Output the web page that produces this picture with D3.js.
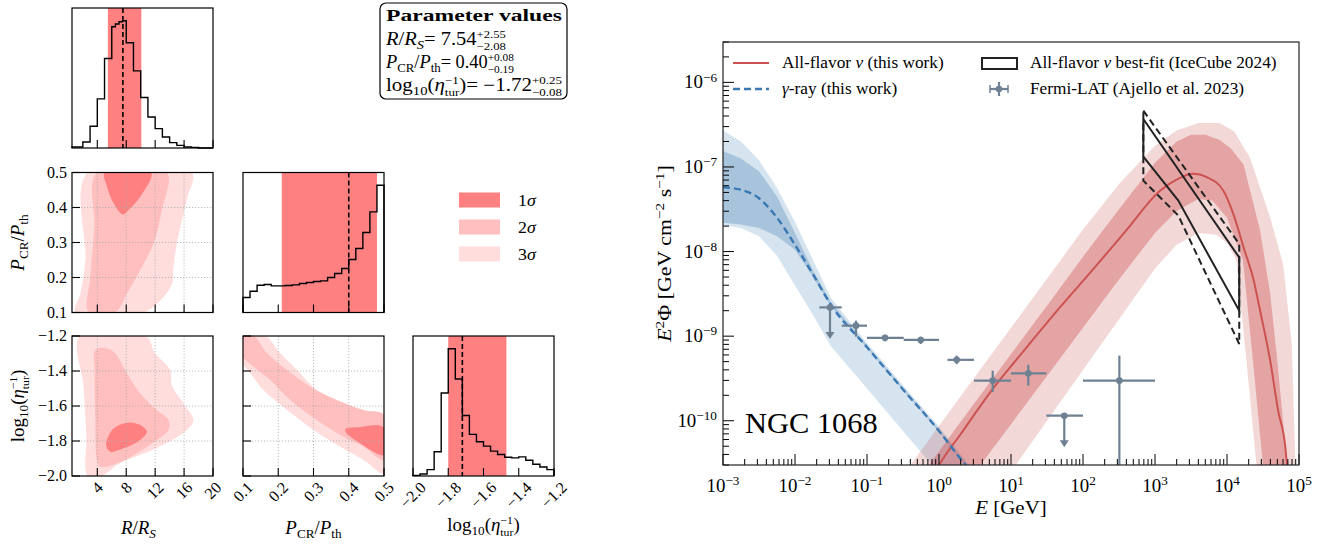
<!DOCTYPE html>
<html><head><meta charset="utf-8">
<script src="https://cdn.jsdelivr.net/npm/d3@7"></script>
<style>
body{margin:0;background:#fff}
svg{display:block}
text{font-family:"Liberation Serif",serif;fill:#000;white-space:pre}
</style>
</head><body>
<svg id="c" width="1331" height="546"></svg>
<script>
// ================= DATA =================
// Corner plot parameters
const paramRanges = [[0.5, 20], [0.1, 0.5], [-2.0, -1.2]];
const paramTicks = [[4, 8, 12, 16, 20], [0.1, 0.2, 0.3, 0.4, 0.5], [-2.0, -1.8, -1.6, -1.4, -1.2]];
const paramTickLabels = [["4", "8", "12", "16", "20"], ["0.1", "0.2", "0.3", "0.4", "0.5"], ["−2.0", "−1.8", "−1.6", "−1.4", "−1.2"]];
const paramMedian = [7.54, 0.40, -1.72];
const paramErrLo = [2.08, 0.19, 0.08];
const paramErrHi = [2.55, 0.08, 0.25];

// 1D marginal histograms (bin edges, relative counts)
const histREdges = [0.5, 2, 3, 4, 5, 6, 6.5, 7, 7.5, 8, 9, 10, 11, 12, 13, 14, 15, 16, 17, 18, 20];
const histRCounts = [3, 18, 65, 147, 268, 363, 371, 378, 381, 315, 231, 151, 93, 58, 33, 16, 8, 3, 2, 0];
const histPEdges = [0.10, 0.12, 0.14, 0.16, 0.18, 0.20, 0.22, 0.24, 0.26, 0.28, 0.30, 0.32, 0.34, 0.36, 0.38, 0.40, 0.42, 0.44, 0.46, 0.48, 0.50];
const histPCounts = [45, 64, 82, 84, 80, 80, 81, 83, 87, 90, 93, 95, 105, 117, 132, 159, 192, 240, 302, 382];
const histEEdges = [-2.00, -1.96, -1.92, -1.88, -1.84, -1.80, -1.76, -1.72, -1.68, -1.64, -1.60, -1.56, -1.52, -1.48, -1.44, -1.40, -1.36, -1.32, -1.28, -1.24, -1.20];
const histECounts = [2, 6, 19, 72, 247, 379, 289, 180, 124, 102, 89, 74, 64, 56, 54, 57, 47, 35, 27, 19];

// 2D credible regions: [x, y] vertices in parameter units
const cRP3 = [[2.67,0.5],[17.06,0.5],[16.37,0.422],[14.99,0.297],[14.53,0.23],[14.3,0.18],[12.69,0.134],[10.39,0.1],[0.97,0.1],[1.66,0.154],[2.34,0.249]];
const cRP2 = [[3.95,0.5],[13.61,0.5],[12.92,0.393],[11.77,0.297],[9.93,0.221],[8.09,0.154],[6.48,0.1],[2.80,0.1],[3.03,0.201],[3.59,0.345]];
const cRP1 = [[5.01,0.5],[11.45,0.5],[9.93,0.431],[8.32,0.393],[7.54,0.380],[6.25,0.412],[5.33,0.46]];
const cRE3 = [[1.56,-1.2],[10.71,-1.2],[12.0,-1.299],[14.07,-1.394],[14.30,-1.480],[15.91,-1.585],[17.29,-1.680],[16.3,-1.74],[12.2,-1.84],[7.0,-1.93],[4.6,-2.0],[2.67,-2.0],[2.48,-1.775],[2.11,-1.490]];
const cRE2 = [[3.72,-1.28],[5.33,-1.27],[6.48,-1.299],[8.09,-1.413],[9.93,-1.528],[12.23,-1.623],[13.84,-1.68],[13.84,-1.737],[12.23,-1.794],[9.47,-1.870],[6.71,-1.928],[4.41,-1.947],[3.95,-1.909],[3.72,-1.68],[3.63,-1.394]];
const cRE1 = [[5.33,-1.794],[6.25,-1.728],[8.09,-1.695],[9.93,-1.709],[10.85,-1.747],[9.93,-1.794],[7.63,-1.842],[5.79,-1.861],[5.24,-1.832]];
const cPE3 = [[0.1,-1.2],[0.163,-1.2],[0.206,-1.299],[0.253,-1.394],[0.309,-1.509],[0.375,-1.604],[0.442,-1.651],[0.5,-1.67],[0.5,-1.985],[0.442,-1.909],[0.375,-1.832],[0.300,-1.737],[0.225,-1.623],[0.158,-1.509],[0.121,-1.413],[0.1,-1.356]];
const cPE2 = [[0.1,-1.2],[0.130,-1.2],[0.168,-1.299],[0.225,-1.394],[0.291,-1.490],[0.366,-1.566],[0.442,-1.623],[0.5,-1.651],[0.5,-1.909],[0.442,-1.832],[0.385,-1.775],[0.309,-1.680],[0.234,-1.566],[0.177,-1.451],[0.130,-1.375],[0.1,-1.318]];
const cPE1 = [[0.390,-1.733],[0.423,-1.722],[0.5,-1.722],[0.5,-1.880],[0.470,-1.861],[0.432,-1.813],[0.394,-1.756]];

// Spectrum panel (log10 E [GeV], log10 E^2 Phi [GeV cm^-2 s^-1])
const gamLogE      = [-3, -2.75, -2.5, -2.25, -2, -1.75, -1.5, -1, -0.5, 0, 0.3, 0.5];
const gamMed       = [-7.24, -7.27, -7.37, -7.60, -7.92, -8.27, -8.63, -9.13, -9.63, -10.12, -10.45, -10.65];
const gamOuterHi   = [-6.57, -6.70, -6.92, -7.25, -7.65, -8.10, -8.55, -9.08, -9.58, -10.07, -10.40, -10.60];
const gamInnerHi   = [-6.81, -6.90, -7.05, -7.35, -7.78, -8.22, -8.60, -9.11, -9.61, -10.10, -10.43, -10.63];
const gamInnerLo   = [-7.66, -7.68, -7.72, -7.82, -7.98, -8.30, -8.65, -9.14, -9.64, -10.13, -10.46, -10.66];
const gamOuterLo   = [-7.69, -7.72, -7.82, -8.05, -8.40, -8.75, -9.12, -9.62, -10.12, -10.62, -10.95, -11.15];

const nuMed      = [[-0.1,-10.7],[0,-10.53],[0.3,-10.16],[0.75,-9.62],[1.2,-9.15],[1.7,-8.64],[2.1,-8.25],[2.6,-7.75],[3.07,-7.28],[3.3,-7.15],[3.53,-7.08],[3.72,-7.12],[3.95,-7.28],[4.09,-7.56],[4.23,-7.95],[4.37,-8.34],[4.46,-8.70],[4.6,-9.29],[4.71,-9.88],[4.81,-10.31],[4.85,-10.7]];
const nuOuterHi  = [[-0.85,-11.1],[-0.4,-10.53],[0,-10.06],[0.5,-9.48],[1,-8.90],[1.5,-8.32],[2,-7.74],[2.5,-7.2],[3,-6.75],[3.3,-6.57],[3.6,-6.48],[3.9,-6.48],[4.1,-6.58],[4.32,-6.89],[4.6,-7.6],[4.78,-8.15],[4.9,-9.1],[4.95,-10.5],[5.0,-11.1]];
const nuInnerHi  = [[-0.55,-11.1],[-0.15,-10.53],[0,-10.36],[0.5,-9.78],[1,-9.21],[1.5,-8.64],[2,-8.06],[2.5,-7.5],[3,-6.95],[3.3,-6.7],[3.5,-6.62],[3.7,-6.62],[3.9,-6.68],[4.05,-6.78],[4.23,-6.97],[4.46,-7.75],[4.6,-8.5],[4.7,-9.3],[4.8,-10.2],[4.86,-11.1]];
const nuInnerLo  = [[0.2,-11.1],[0.57,-10.53],[1,-10.04],[1.5,-9.47],[2,-8.9],[2.5,-8.33],[3,-7.78],[3.3,-7.52],[3.6,-7.38],[3.8,-7.4],[4.0,-7.6],[4.22,-8.1],[4.36,-9.29],[4.5,-10.53],[4.55,-11.1]];
const nuOuterLo  = [[0.6,-11.1],[1.06,-10.53],[1.5,-10.0],[2,-9.4],[2.5,-8.8],[3,-8.2],[3.3,-7.92],[3.6,-7.78],[3.85,-7.8],[4.0,-7.9],[4.13,-8.1],[4.27,-9.29],[4.41,-10.53],[4.47,-11.1]];

const icSolid  = [[2.838,-6.433],[4.17,-8.07],[4.17,-8.699],[3.324,-7.398],[2.838,-6.878],[2.838,-6.433]];
const icDashed = [[2.838,-6.335],[4.17,-7.91],[4.17,-9.092],[3.324,-7.575],[2.838,-7.162],[2.838,-6.335]];

const fermiLogE   = [-1.514, -1.153, -0.75, -0.254, 0.246, 0.746, 1.24, 1.74, 2.505];
const fermiLogELo = [-1.663, -1.351, -1.0, -0.49, 0.118, 0.486, 1.0, 1.49, 2.0];
const fermiLogEHi = [-1.351, -1.0, -0.49, 0.0, 0.486, 1.0, 1.49, 2.0, 3.0];
const fermiLogF   = [-8.66, -8.876, -9.02, -9.045, -9.28, -9.526, -9.44, -9.94, -9.526];
const fermiLogFLo = [-9.033, -9.006, -9.061, -9.092, -9.33, -9.66, -9.585, -10.314, -11.2];
const fermiLogFHi = [-8.66, -8.817, -8.983, -9.006, -9.23, -9.408, -9.337, -9.94, -9.23];
const fermiUL     = [true, false, false, false, false, false, false, true, false];

const specXTicks = [-3, -2, -1, 0, 1, 2, 3, 4, 5];
const specYTicks = [-10, -9, -8, -7, -6];

// ================= DRAWING =================
const svg = d3.select("#c");
const P = v => Math.pow(10, v);

// rich text helper: parts = [text, style] or {stack:[sup, sub]}
function rich(parent, parts, fs, anchor, x, y, rot, sx, targetW) {
  const outer = parent.append("g");
  const g = outer.append("g");
  let cx = 0;
  const mk = (txt, st, px, dy, scale) => {
    const t = g.append("text").attr("x", px).attr("y", dy).text(txt);
    t.style("font-size", (fs * scale) + "px");
    if (/i$/.test(st)) t.style("font-style", "italic");
    if (st === "b") t.style("font-weight", "bold");
    return t;
  };
  parts.forEach(p => {
    if (p.stack) {
      const a = mk(p.stack[0], "sup", cx, -fs * 0.40, 0.62);
      const b = mk(p.stack[1], "sub", cx, fs * 0.30, 0.62);
      cx += Math.max(a.node().getComputedTextLength(), b.node().getComputedTextLength());
    } else {
      const [txt, st] = p;
      const small = /sup|sub/.test(st);
      const dy = /sup/.test(st) ? -fs * 0.38 : /sub/.test(st) ? fs * 0.24 : 0;
      const t = mk(txt, st, cx, dy, small ? 0.7 : 1);
      cx += t.node().getComputedTextLength();
    }
  });
  let s = sx || 1;
  if (targetW) s = targetW / cx;
  const shift = anchor === "middle" ? -cx / 2 : anchor === "end" ? -cx : 0;
  g.attr("transform", `translate(${shift},0)`);
  outer.attr("transform", `translate(${x},${y})` + (rot ? ` rotate(${rot})` : "") + ` scale(${s},1)`);
  return cx * s;
}

// ---------- Corner plot ----------
const cols = [72, 243, 413], rows = [8, 172.5, 336], PW = 141, PH = 140;
const col1 = "#ff8080", col2 = "#ffbfbf", col3 = "#ffdddd";
const xS = i => d3.scaleLinear().domain(paramRanges[i]).range([cols[i], cols[i] + PW]);
const yS = (j, r) => d3.scaleLinear().domain(paramRanges[j]).range([rows[r] + PH, rows[r]]);

const labR = [["R", "i"], ["/", ""], ["R", "i"], ["S", "subi"]];
const labP = [["P", "i"], ["CR", "sub"], ["/", ""], ["P", "i"], ["th", "sub"]];
const labE = [["log", ""], ["10", "sub"], ["(", ""], ["η", "i"], { stack: ["−1", "tur"] }, [")", ""]];

function clipFor(id, x, y) {
  svg.append("clipPath").attr("id", id).append("rect").attr("x", x).attr("y", y).attr("width", PW).attr("height", PH);
}

function histPanel(i, edges, counts) {
  const x = xS(i);
  const y = d3.scaleLinear().domain([0, d3.max(counts) * 1.1]).range([rows[i] + PH, rows[i]]);
  const g = svg.append("g");
  const lo = paramMedian[i] - paramErrLo[i], hi = paramMedian[i] + paramErrHi[i];
  g.append("rect").attr("x", x(lo)).attr("y", rows[i]).attr("width", x(hi) - x(lo)).attr("height", PH).attr("fill", col1);
  const pts = [[edges[0], 0]];
  counts.forEach((c, k) => { pts.push([edges[k], c]); pts.push([edges[k + 1], c]); });
  pts.push([edges[edges.length - 1], 0]);
  g.append("path").attr("d", d3.line().x(d => x(d[0])).y(d => y(d[1]))(pts))
    .attr("fill", "none").attr("stroke", "#000").attr("stroke-width", 1.4);
  g.append("line").attr("x1", x(paramMedian[i])).attr("x2", x(paramMedian[i])).attr("y1", rows[i]).attr("y2", rows[i] + PH)
    .attr("stroke", "#000").attr("stroke-width", 1.6).attr("stroke-dasharray", "5,3");
  paramTicks[i].forEach(t => g.append("line").attr("x1", x(t)).attr("x2", x(t)).attr("y1", rows[i] + PH).attr("y2", rows[i] + PH - 8).attr("stroke", "#000").attr("stroke-width", 1.1));
  g.append("rect").attr("x", cols[i]).attr("y", rows[i]).attr("width", PW).attr("height", PH).attr("fill", "none").attr("stroke", "#000").attr("stroke-width", 1.2);
}

function contourPanel(ci, ri, polys) {
  const x = xS(ci), y = yS(ri, ri);
  const id = "cl" + ci + ri;
  clipFor(id, cols[ci], rows[ri]);
  const g = svg.append("g");
  const gc = g.append("g").attr("clip-path", `url(#${id})`);
  const ln = d3.line().x(d => x(d[0])).y(d => y(d[1])).curve(d3.curveCatmullRomClosed.alpha(0.5));
  [[polys[0], col3], [polys[1], col2], [polys[2], col1]].forEach(([pl, c]) => {
    gc.append("path").attr("d", ln(pl)).attr("fill", c);
  });
  const gx = paramTicks[ci].filter(t => t > paramRanges[ci][0] && t < paramRanges[ci][1]);
  const gy = paramTicks[ri].filter(t => t > paramRanges[ri][0] && t < paramRanges[ri][1]);
  gx.forEach(t => g.append("line").attr("x1", x(t)).attr("x2", x(t)).attr("y1", rows[ri]).attr("y2", rows[ri] + PH).attr("stroke", "#aaa").attr("stroke-width", 0.8).attr("stroke-dasharray", "1.2,1.8"));
  gy.forEach(t => g.append("line").attr("y1", y(t)).attr("y2", y(t)).attr("x1", cols[ci]).attr("x2", cols[ci] + PW).attr("stroke", "#aaa").attr("stroke-width", 0.8).attr("stroke-dasharray", "1.2,1.8"));
  paramTicks[ci].forEach(t => g.append("line").attr("x1", x(t)).attr("x2", x(t)).attr("y1", rows[ri] + PH).attr("y2", rows[ri] + PH - 8).attr("stroke", "#000").attr("stroke-width", 1.1));
  paramTicks[ri].forEach(t => g.append("line").attr("y1", y(t)).attr("y2", y(t)).attr("x1", cols[ci]).attr("x2", cols[ci] + 8).attr("stroke", "#000").attr("stroke-width", 1.1));
  g.append("rect").attr("x", cols[ci]).attr("y", rows[ri]).attr("width", PW).attr("height", PH).attr("fill", "none").attr("stroke", "#000").attr("stroke-width", 1.2);
}

histPanel(0, histREdges, histRCounts);
histPanel(1, histPEdges, histPCounts);
histPanel(2, histEEdges, histECounts);
contourPanel(0, 1, [cRP3, cRP2, cRP1]);
contourPanel(0, 2, [cRE3, cRE2, cRE1]);
contourPanel(1, 2, [cPE3, cPE2, cPE1]);

// y tick labels (rows 1,2 on column 0)
[1, 2].forEach(r => {
  const y = yS(r, r);
  paramTicks[r].forEach((t, k) => {
    svg.append("text").attr("x", cols[0] - 5).attr("y", y(t)).attr("dy", "0.33em").attr("text-anchor", "end")
      .style("font-size", "16px").text(paramTickLabels[r][k]);
  });
});
// x tick labels (bottom row), rotated 45
[0, 1, 2].forEach(c => {
  const x = xS(c);
  paramTicks[c].forEach((t, k) => {
    const tx = svg.append("text").style("font-size", "16px").attr("text-anchor", "middle").attr("dy", "0.33em").text(paramTickLabels[c][k]);
    const L = tx.node().getComputedTextLength();
    const h = (L + 11) * 0.7071;
    tx.attr("transform", `translate(${x(t)},${rows[2] + PH + 5 + h / 2}) rotate(-45)`);
  });
});
// axis labels
rich(svg, labR, 18, "middle", cols[0] + PW / 2 - 4, 534, 0, 1.05);
rich(svg, labP, 18, "middle", cols[1] + PW / 2, 534, 0, 1.05);
rich(svg, labE, 18, "middle", cols[2] + PW / 2, 531, 0, 1.05);
rich(svg, labP, 18, "middle", 24, rows[1] + PH / 2, -90, 1.05);
rich(svg, labE, 18, "middle", 24, rows[2] + PH / 2, -90, 1.05);

// sigma legend
[["1", col1], ["2", col2], ["3", col3]].forEach(([s, c], k) => {
  const cy = 200 + k * 27;
  svg.append("rect").attr("x", 459).attr("y", cy - 7.5).attr("width", 41).attr("height", 15).attr("fill", c);
  rich(svg, [[s, ""], ["σ", "i"]], 17, "start", 518, cy + 6, 0, 1.05);
});

// parameter box
svg.append("rect").attr("x", 380).attr("y", 3).attr("width", 187).attr("height", 96).attr("rx", 6)
  .attr("fill", "#fff").attr("stroke", "#000").attr("stroke-width", 1.2);
rich(svg, [["Parameter values", "b"]], 17, "start", 386, 21, 0, null, 176);
rich(svg, [["R", "i"], ["/", ""], ["R", "i"], ["S", "subi"], ["= 7.54", ""], { stack: ["+2.55", "−2.08"] }], 18, "start", 386, 45, 0, null, 120);
rich(svg, [["P", "i"], ["CR", "sub"], ["/", ""], ["P", "i"], ["th", "sub"], ["= 0.40", ""], { stack: ["+0.08", "−0.19"] }], 18, "start", 386, 68, 0, null, 128);
rich(svg, [["log", ""], ["10", "sub"], ["(", ""], ["η", "i"], { stack: ["−1", "tur"] }, [")= −1.72", ""], { stack: ["+0.25", "−0.08"] }], 18, "start", 386, 91, 0, null, 176);

// ---------- Spectrum panel ----------
const X0 = 723, X1 = 1299, Y0 = 42, Y1 = 465;
const xE = d3.scaleLog().domain([1e-3, 1e5]).range([X0, X1]);
const yF = d3.scaleLog().domain([3e-11, 3e-6]).range([Y1, Y0]);
svg.append("clipPath").attr("id", "spc").append("rect").attr("x", X0).attr("y", Y0).attr("width", X1 - X0).attr("height", Y1 - Y0);
const sp = svg.append("g").attr("clip-path", "url(#spc)");
const lnL = d3.line().x(d => xE(P(d[0]))).y(d => yF(P(d[1])));

// gamma bands
const gamArr = (hi, lo) => gamLogE.map((e, k) => [e, hi[k]]).concat(gamLogE.map((e, k) => [e, lo[k]]).reverse());
sp.append("path").attr("d", lnL(gamArr(gamOuterHi, gamOuterLo)) + "Z").attr("fill", "rgba(70,130,180,0.22)");
sp.append("path").attr("d", lnL(gamArr(gamInnerHi, gamInnerLo)) + "Z").attr("fill", "rgba(70,130,180,0.32)");
// neutrino bands
const band = (hi, lo) => hi.concat(lo.slice().reverse());
sp.append("path").attr("d", lnL(band(nuOuterHi, nuOuterLo)) + "Z").attr("fill", "rgba(200,70,70,0.21)");
sp.append("path").attr("d", lnL(band(nuInnerHi, nuInnerLo)) + "Z").attr("fill", "rgba(200,70,70,0.35)");
// lines
sp.append("path").attr("d", d3.line().x(d => xE(P(d[0]))).y(d => yF(P(d[1]))).curve(d3.curveMonotoneX)(nuMed))
  .attr("fill", "none").attr("stroke", "#cc5252").attr("stroke-width", 2);
sp.append("path").attr("d", d3.line().x((d, k) => xE(P(gamLogE[k]))).y(d => yF(P(d))).curve(d3.curveMonotoneX)(gamMed))
  .attr("fill", "none").attr("stroke", "#3a78b2").attr("stroke-width", 2.4).attr("stroke-dasharray", "7,4");
// IceCube bowties
sp.append("path").attr("d", lnL(icSolid)).attr("fill", "none").attr("stroke", "#222").attr("stroke-width", 2).attr("stroke-linejoin", "miter");
sp.append("path").attr("d", lnL(icDashed)).attr("fill", "none").attr("stroke", "#222").attr("stroke-width", 2).attr("stroke-dasharray", "7,4");
// Fermi points
const fc = "#6e8193";
fermiLogE.forEach((e, k) => {
  const px = xE(P(e)), py = yF(P(fermiLogF[k]));
  sp.append("line").attr("x1", xE(P(fermiLogELo[k]))).attr("x2", xE(P(fermiLogEHi[k]))).attr("y1", py).attr("y2", py).attr("stroke", fc).attr("stroke-width", 2.2);
  if (fermiUL[k]) {
    const ty = yF(P(fermiLogFLo[k]));
    sp.append("line").attr("x1", px).attr("x2", px).attr("y1", py).attr("y2", ty - 5).attr("stroke", fc).attr("stroke-width", 2.2);
    sp.append("path").attr("d", `M${px - 4.5},${ty - 7}L${px + 4.5},${ty - 7}L${px},${ty}Z`).attr("fill", fc);
  } else {
    sp.append("line").attr("x1", px).attr("x2", px).attr("y1", yF(P(fermiLogFHi[k]))).attr("y2", yF(P(fermiLogFLo[k]))).attr("stroke", fc).attr("stroke-width", 2.2);
  }
  sp.append("circle").attr("cx", px).attr("cy", py).attr("r", 3.3).attr("fill", fc);
});
// NGC label
rich(svg, [["NGC 1068", ""]], 29, "start", 745, 433, 0, 1.05);

// ticks
const tk = svg.append("g").attr("stroke", "#000").attr("stroke-width", 1);
for (let d = -3; d <= 5; d++) {
  tk.append("line").attr("x1", xE(P(d))).attr("x2", xE(P(d))).attr("y1", Y1).attr("y2", Y1 - 11);
  if (d < 5) for (let m = 2; m <= 9; m++) {
    const xx = xE(m * P(d));
    tk.append("line").attr("x1", xx).attr("x2", xx).attr("y1", Y1).attr("y2", Y1 - 6);
  }
}
for (let d = -11; d <= -6; d++) {
  for (let m = 1; m <= 9; m++) {
    const v = m * P(d);
    if (v < 3e-11 || v > 3e-6) continue;
    const yy = yF(v);
    tk.append("line").attr("x1", X0).attr("x2", X0 + (m === 1 ? 11 : 6)).attr("y1", yy).attr("y2", yy);
  }
}
svg.append("rect").attr("x", X0).attr("y", Y0).attr("width", X1 - X0).attr("height", Y1 - Y0).attr("fill", "none").attr("stroke", "#222").attr("stroke-width", 1.2);
specXTicks.forEach(d => rich(svg, [["10", ""], [d < 0 ? "−" + (-d) : "" + d, "sup"]], 18, "middle", xE(P(d)), 492, 0, 1.05));
specYTicks.forEach(d => rich(svg, [["10", ""], ["−" + (-d), "sup"]], 18, "end", 717, yF(P(d)) + 6, 0, 1.05));
rich(svg, [["E", "i"], [" [GeV]", ""]], 19, "middle", (X0 + X1) / 2, 514, 0, 1.1);
rich(svg, [["E", "i"], ["2", "sup"], ["Φ [GeV cm", ""], ["−2", "sup"], [" s", ""], ["−1", "sup"], ["]", ""]], 19, "middle", 671, (Y0 + Y1) / 2, -90, 1.15);

// legend
svg.append("line").attr("x1", 733).attr("x2", 769).attr("y1", 63).attr("y2", 63).attr("stroke", "#cc5252").attr("stroke-width", 2);
svg.append("line").attr("x1", 733).attr("x2", 769).attr("y1", 89).attr("y2", 89).attr("stroke", "#3a78b2").attr("stroke-width", 2.4).attr("stroke-dasharray", "7,4");
rich(svg, [["All-flavor ", ""], ["ν", "i"], [" (this work)", ""]], 16, "start", 782, 68, 0, 1.08);
rich(svg, [["γ", "i"], ["-ray (this work)", ""]], 16, "start", 782, 94, 0, 1.08);
svg.append("rect").attr("x", 982).attr("y", 58).attr("width", 35).attr("height", 11).attr("fill", "none").attr("stroke", "#222").attr("stroke-width", 2);
svg.append("line").attr("x1", 990).attr("x2", 1008).attr("y1", 89).attr("y2", 89).attr("stroke", fc).attr("stroke-width", 2.2);
svg.append("line").attr("x1", 990).attr("x2", 990).attr("y1", 85).attr("y2", 93).attr("stroke", fc).attr("stroke-width", 1.5);
svg.append("line").attr("x1", 1008).attr("x2", 1008).attr("y1", 85).attr("y2", 93).attr("stroke", fc).attr("stroke-width", 1.5);
svg.append("line").attr("x1", 999).attr("x2", 999).attr("y1", 82).attr("y2", 96).attr("stroke", fc).attr("stroke-width", 2.2);
svg.append("circle").attr("cx", 999).attr("cy", 89).attr("r", 3.3).attr("fill", fc);
rich(svg, [["All-flavor ", ""], ["ν", "i"], [" best-fit (IceCube 2024)", ""]], 16, "start", 1030, 68, 0, 1.08);
rich(svg, [["Fermi-LAT (Ajello et al. 2023)", ""]], 16, "start", 1030, 94, 0, 1.08);
</script>
</body></html>
